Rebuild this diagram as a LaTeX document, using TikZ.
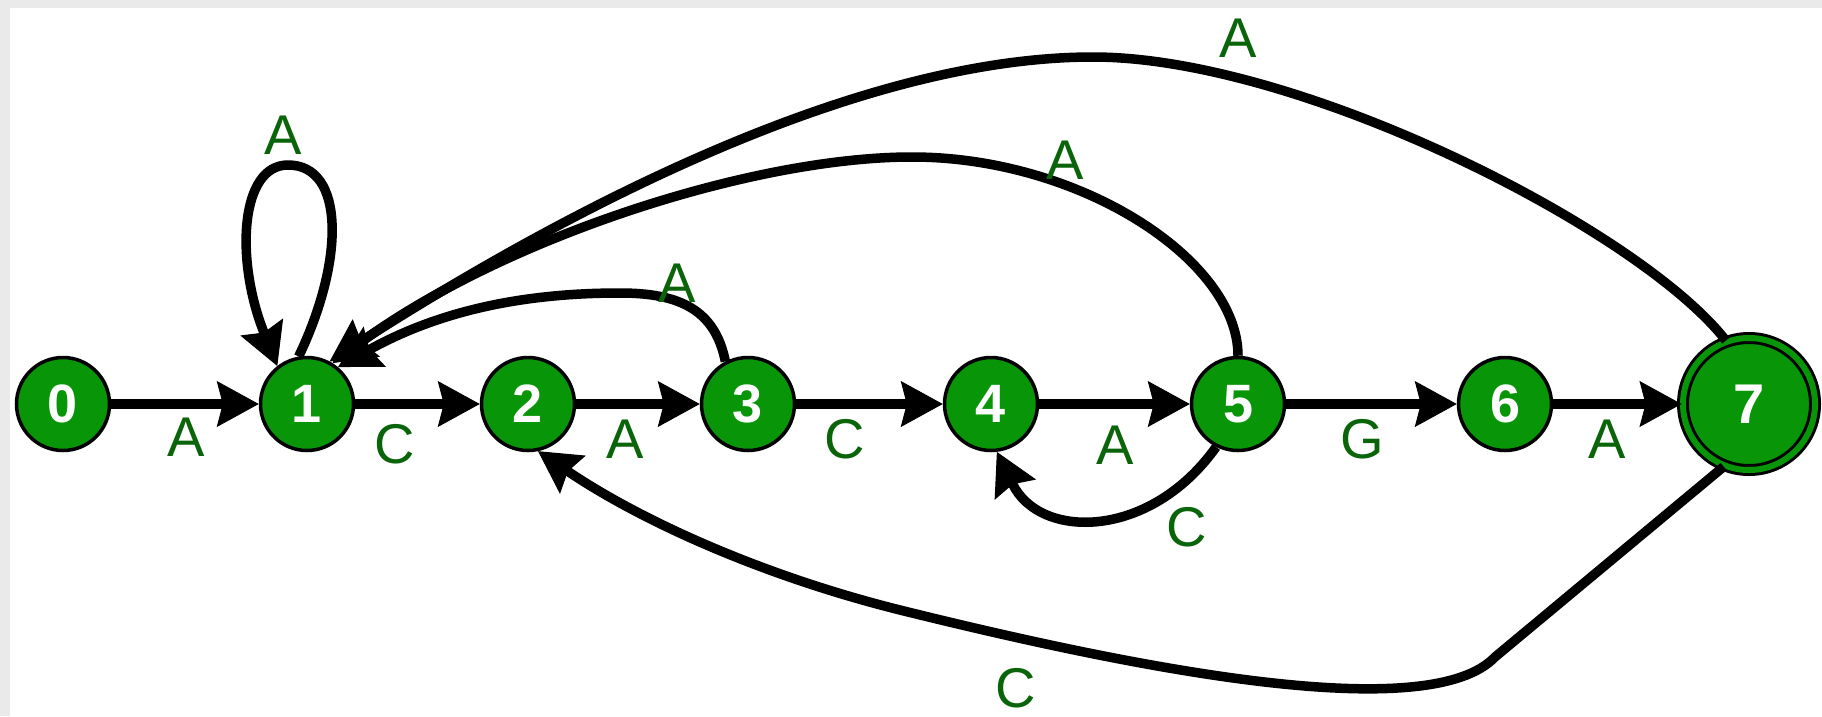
\documentclass[tikz,border=0pt]{standalone}
\usepackage{fontspec}
\setmainfont{Liberation Sans}
\usetikzlibrary{arrows.meta}
\definecolor{nodegreen}{RGB}{8,150,8}
\definecolor{lblgreen}{RGB}{10,100,10}
\definecolor{framegray}{RGB}{234,234,234}
\begin{document}
\begin{tikzpicture}[x=1pt,y=-1pt,
  state/.style={circle,fill=nodegreen,draw=black,line width=3.5pt,minimum size=93pt,inner sep=0pt,
    text=white,font=\fontsize{54}{60}\selectfont\bfseries},
  accept/.style={circle,fill=nodegreen,draw=black,line width=3pt,double=nodegreen,double distance=6pt,
    minimum size=132pt,inner sep=0pt,text=white,font=\fontsize{56}{60}\selectfont\bfseries},
  tr/.style={line width=9.5pt,draw=black,-{Stealth[length=42pt,width=46pt,inset=6pt,line width=1pt]}},
  lbl/.style={text=lblgreen,font=\fontsize{56}{60}\selectfont,inner sep=0pt}]
\useasboundingbox (0,0) rectangle (1822,716);
\fill[framegray] (0,0) rectangle (1822,716);
\fill[white] (10,8) rectangle (1822,716);

\node[state] (n0) at (63,404) {0};
\node[state] (n1) at (307,404) {1};
\node[state] (n2) at (528,404) {2};
\node[state] (n3) at (748,404) {3};
\node[state] (n4) at (991,404) {4};
\node[state] (n5) at (1238,404) {5};
\node[state] (n6) at (1505,404) {6};
\node[accept] (n7) at (1749,404) {7};

% straight transitions
\draw[tr] (n0) -- (n1);
\draw[tr] (n1) -- (n2);
\draw[tr] (n2) -- (n3);
\draw[tr] (n3) -- (n4);
\draw[tr] (n4) -- (n5);
\draw[tr] (n5) -- (n6);
\draw[tr] (n6) -- (n7);

\node[lbl] (l01) at (186,437) {A};
\node[lbl] (l12) at (395,444) {C};
\node[lbl] (l23) at (625,439) {A};
\node[lbl] (l34) at (845,439) {C};
\node[lbl] (l45) at (1115,445) {A};
\node[lbl] (l56) at (1362,439) {G};
\node[lbl] (l67) at (1607,439) {A};

% self loop on 1
\draw[tr] (n1.100) .. controls (345,260) and (345,165) .. (288,165)
   .. controls (240,165) and (235,260) .. (n1.128);
\node[lbl] (l11) at (283,135) {A};

% 3 -> 1
\draw[tr] (n3.118) .. controls (715,310) and (680,293) .. (620,293)
   .. controls (540,293) and (450,305) .. (n1.50);
\node[lbl] (l31) at (677,283) {A};

% 5 -> 1
\draw[tr] (n5.north) .. controls (1238,260) and (1080,157) .. (912,157)
   .. controls (750,157) and (500,240) .. (n1.58);
\node[lbl] (l51) at (1065,160) {A};

% 7 -> 1
\draw[tr] (n7.110) .. controls (1640,230) and (1300,57) .. (1093,57)
   .. controls (850,57) and (550,220) .. (n1.62);
\node[lbl] (l71) at (1238,38) {A};

% 5 -> 4
\draw[tr] (n5.243) .. controls (1150,540) and (1040,540) .. (n4.277);
\node[lbl] (l54) at (1187,527) {C};

% 7 -> 2
\coordinate (k72) at (1495,657);
\draw[tr] (n7.248) -- (k72) .. controls (1430,725) and (1150,672) .. (900,610)
   .. controls (760,575) and (640,520) .. (n2.282);
\node[lbl] (l72) at (1016,688) {C};
\end{tikzpicture}
\end{document}
